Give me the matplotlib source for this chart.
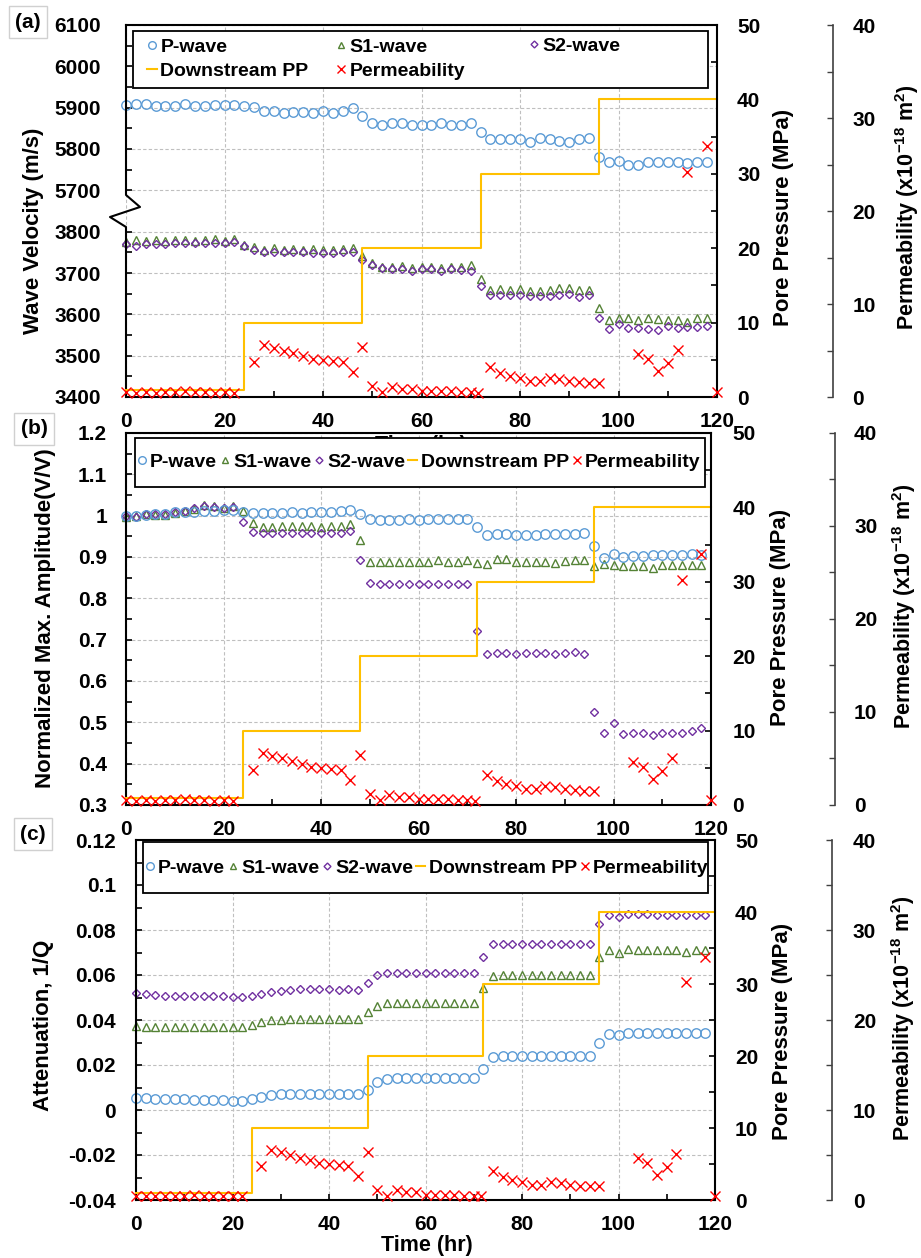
import matplotlib
matplotlib.use('Agg')
import matplotlib.pyplot as plt
from matplotlib.lines import Line2D
from matplotlib.patches import Rectangle
from matplotlib.ticker import MultipleLocator, FixedLocator, FuncFormatter

plt.rcParams['font.family'] = ['Liberation Sans', 'DejaVu Sans']
plt.rcParams['font.weight'] = 'bold'
plt.rcParams['axes.labelweight'] = 'bold'
plt.rcParams['mathtext.fontset'] = 'custom'
plt.rcParams['mathtext.bf'] = 'Liberation Sans:bold'
plt.rcParams['mathtext.rm'] = 'Liberation Sans:bold'
plt.rcParams['mathtext.default'] = 'bf'

W, H = 921, 1258

BLUE = '#5B9BD5'
GREEN = '#548235'
PURPLE = '#7030A0'
GOLD = '#FFC000'
RED = '#FF0000'

# ---- data ----
hours = list(range(0, 120, 2))

# (a) wave velocity, m/s
vel_p = [5906, 5910, 5908, 5904, 5904, 5904, 5910, 5904, 5904, 5906, 5906, 5906,
         5904, 5902, 5892, 5892, 5888, 5890, 5890, 5888, 5891, 5888, 5891, 5899,
         5880, 5862, 5859, 5864, 5862, 5859, 5859, 5859, 5862, 5857, 5858, 5863,
         5840, 5823, 5824, 5823, 5823, 5818, 5827, 5824, 5820, 5818, 5823, 5827,
         5780, 5768, 5770, 5761, 5762, 5768, 5769, 5768, 5769, 5766, 5768, 5769]
vel_s1 = [3776, 3780, 3778, 3780, 3778, 3780, 3780, 3778, 3780, 3782, 3778, 3782,
          3768, 3762, 3756, 3760, 3756, 3758, 3756, 3758, 3756, 3756, 3758, 3760,
          3740, 3723, 3715, 3714, 3717, 3711, 3715, 3715, 3711, 3715, 3715, 3719,
          3685, 3659, 3661, 3659, 3661, 3656, 3656, 3659, 3663, 3663, 3659, 3659,
          3616, 3586, 3592, 3590, 3586, 3590, 3588, 3586, 3586, 3582, 3590, 3590]
vel_s2 = [3770, 3766, 3770, 3770, 3770, 3772, 3772, 3773, 3773, 3772, 3772, 3776,
          3766, 3756, 3752, 3752, 3752, 3752, 3752, 3749, 3749, 3749, 3752, 3750,
          3731, 3719, 3713, 3709, 3710, 3705, 3710, 3709, 3705, 3709, 3707, 3706,
          3669, 3647, 3647, 3647, 3647, 3645, 3644, 3645, 3647, 3649, 3643, 3647,
          3590, 3564, 3576, 3566, 3566, 3565, 3562, 3572, 3568, 3570, 3570, 3572]

# (b) normalized max amplitude
amp_p = [0.998, 1.000, 1.002, 1.004, 1.004, 1.008, 1.010, 1.010, 1.012, 1.012, 1.014, 1.014,
         1.008, 1.006, 1.006, 1.006, 1.006, 1.008, 1.006, 1.008, 1.008, 1.010, 1.012, 1.014,
         1.004, 0.992, 0.990, 0.990, 0.990, 0.991, 0.990, 0.991, 0.991, 0.991, 0.992, 0.992,
         0.973, 0.954, 0.956, 0.956, 0.953, 0.954, 0.954, 0.956, 0.956, 0.956, 0.956, 0.958,
         0.926, 0.898, 0.908, 0.901, 0.902, 0.902, 0.904, 0.906, 0.906, 0.906, 0.908, 0.906]
amp_s1 = [0.996, 0.999, 1.004, 1.002, 1.001, 1.006, 1.012, 1.016, 1.026, 1.024, 1.018, 1.024,
          1.011, 0.983, 0.973, 0.973, 0.975, 0.975, 0.975, 0.975, 0.973, 0.975, 0.975, 0.980,
          0.940, 0.889, 0.889, 0.889, 0.889, 0.889, 0.889, 0.887, 0.892, 0.889, 0.889, 0.893,
          0.885, 0.882, 0.894, 0.896, 0.889, 0.889, 0.889, 0.889, 0.886, 0.890, 0.892, 0.893,
          0.878, 0.882, 0.881, 0.878, 0.878, 0.878, 0.874, 0.881, 0.881, 0.881, 0.881, 0.881]
amp_s2 = [0.998, 0.997, 1.004, 1.003, 1.003, 1.010, 1.012, 1.018, 1.024, 1.020, 1.018, 1.020,
          0.985, 0.961, 0.959, 0.959, 0.958, 0.959, 0.959, 0.959, 0.959, 0.959, 0.959, 0.962,
          0.893, 0.836, 0.835, 0.835, 0.835, 0.834, 0.835, 0.834, 0.835, 0.835, 0.835, 0.835,
          0.720, 0.666, 0.667, 0.667, 0.666, 0.667, 0.667, 0.667, 0.666, 0.667, 0.669, 0.666,
          0.524, 0.474, 0.498, 0.471, 0.475, 0.475, 0.470, 0.474, 0.475, 0.474, 0.479, 0.486]

# (c) attenuation 1/Q
att_p = [0.0055, 0.0052, 0.0050, 0.0049, 0.0049, 0.0048, 0.0046, 0.0044, 0.0044, 0.0043, 0.0040, 0.0040,
         0.0050, 0.0059, 0.0067, 0.0071, 0.0071, 0.0071, 0.0071, 0.0071, 0.0070, 0.0071, 0.0071, 0.0071,
         0.0090, 0.0126, 0.0136, 0.0144, 0.0144, 0.0144, 0.0144, 0.0144, 0.0144, 0.0144, 0.0144, 0.0144,
         0.0182, 0.0237, 0.0240, 0.0240, 0.0240, 0.0240, 0.0240, 0.0240, 0.0240, 0.0240, 0.0240, 0.0240,
         0.0296, 0.0340, 0.0333, 0.0344, 0.0344, 0.0344, 0.0344, 0.0344, 0.0344, 0.0344, 0.0344, 0.0344]
att_s1 = [0.0375, 0.0370, 0.0370, 0.0370, 0.0370, 0.0370, 0.0370, 0.0370, 0.0370, 0.0370, 0.0367, 0.0367,
          0.0378, 0.0393, 0.0400, 0.0400, 0.0403, 0.0403, 0.0403, 0.0403, 0.0403, 0.0403, 0.0403, 0.0403,
          0.0437, 0.0462, 0.0474, 0.0477, 0.0477, 0.0477, 0.0477, 0.0477, 0.0477, 0.0477, 0.0477, 0.0477,
          0.0541, 0.0597, 0.0600, 0.0600, 0.0600, 0.0600, 0.0600, 0.0600, 0.0600, 0.0600, 0.0600, 0.0600,
          0.0681, 0.0711, 0.0699, 0.0714, 0.0711, 0.0711, 0.0711, 0.0711, 0.0711, 0.0704, 0.0711, 0.0711]
att_s2 = [0.0519, 0.0514, 0.0511, 0.0508, 0.0508, 0.0508, 0.0508, 0.0508, 0.0508, 0.0508, 0.0504, 0.0504,
          0.0508, 0.0516, 0.0526, 0.0530, 0.0533, 0.0536, 0.0536, 0.0536, 0.0536, 0.0533, 0.0536, 0.0533,
          0.0563, 0.0600, 0.0607, 0.0610, 0.0610, 0.0610, 0.0610, 0.0610, 0.0610, 0.0610, 0.0610, 0.0610,
          0.0681, 0.0738, 0.0738, 0.0738, 0.0738, 0.0738, 0.0738, 0.0738, 0.0738, 0.0738, 0.0738, 0.0738,
          0.0825, 0.0867, 0.0859, 0.0870, 0.0870, 0.0870, 0.0867, 0.0868, 0.0868, 0.0867, 0.0867, 0.0867]

# downstream pore pressure (MPa), step changes
pp_t = [0, 24, 48, 72, 96, 120]
pp_val = [1, 10, 20, 30, 40, 40]

# permeability (x1e-18 m2)
perm_t = [0, 2, 4, 6, 8, 10, 12, 14, 16, 18, 20, 22,
          26, 28, 30, 32, 34, 36, 38, 40, 42, 44, 46, 48,
          50, 52, 54, 56, 58, 60, 62, 64, 66, 68, 70, 71.5,
          74, 76, 78, 80, 82, 84, 86, 88, 90, 92, 94, 96,
          104, 106, 108, 110, 112, 114, 118, 120]
perm_k = [0.5, 0.45, 0.5, 0.45, 0.5, 0.5, 0.6, 0.5, 0.5, 0.45, 0.5, 0.45,
          3.8, 5.6, 5.3, 5.0, 4.7, 4.4, 4.1, 3.95, 3.85, 3.8, 2.7, 5.35,
          1.15, 0.5, 1.1, 0.9, 0.85, 0.6, 0.6, 0.6, 0.6, 0.5, 0.5, 0.4,
          3.2, 2.6, 2.25, 2.0, 1.7, 1.7, 2.05, 1.9, 1.7, 1.6, 1.55, 1.55,
          4.65, 4.1, 2.8, 3.7, 5.1, 24.2, 27.0, 0.5]

# broken velocity axis: upper block 5700-6100 drawn right above 3400-3800
vel_shift = 1800
vel_ticks = [3400, 3500, 3600, 3700, 3800, 5700, 5800, 5900, 6000, 6100]

fig = plt.figure(figsize=(W / 100, H / 100), dpi=100)
num_fmt = FuncFormatter(lambda v, pos: f'{round(v, 4):g}')


def add_panel(box, k_x, ypad, pppad, kpad):
    x0, y0, x1, y1 = box
    ax = fig.add_axes([x0 / W, 1 - y1 / H, (x1 - x0) / W, (y1 - y0) / H])
    ax.set_facecolor('none')
    ax_pp = ax.twinx()
    ax_k = ax.twinx()
    ax_k.spines['right'].set_position(('axes', (k_x - x0) / (x1 - x0)))
    for s in ['left', 'bottom', 'top']:
        ax.spines[s].set_linewidth(1.5)
    ax.spines['right'].set_visible(False)
    for a in (ax_pp, ax_k):
        for s in ['left', 'bottom', 'top']:
            a.spines[s].set_visible(False)
    ax_pp.spines['right'].set_linewidth(1.5)
    ax_k.spines['right'].set_linewidth(1.2)
    ax_k.spines['right'].set_color('#404040')

    ax.set_xlim(0, 120)
    ax.xaxis.set_major_locator(MultipleLocator(20))
    ax.xaxis.set_minor_locator(MultipleLocator(10))
    ax.tick_params(which='both', direction='in', length=4, width=1.2, labelsize=15)
    ax.tick_params(axis='x', pad=11)
    ax.tick_params(axis='y', pad=ypad)
    ax.grid(True, which='major', color='#BFBFBF', lw=0.8, ls=(0, (3, 2)))

    ax_pp.set_ylim(0, 50)
    ax_pp.yaxis.set_major_locator(MultipleLocator(10))
    ax_pp.yaxis.set_minor_locator(MultipleLocator(5))
    ax_pp.tick_params(which='both', direction='in', length=4, width=1.2, labelsize=15, pad=pppad)

    ax_k.set_ylim(0, 40)
    ax_k.yaxis.set_major_locator(MultipleLocator(10))
    ax_k.yaxis.set_minor_locator(MultipleLocator(5))
    ax_k.tick_params(which='both', direction='in', length=4, width=1.0, labelsize=15, pad=kpad,
                     color='#404040')

    ax_pp.step(pp_t, pp_val, where='post', color=GOLD, lw=1.5, clip_on=False)
    ax_k.plot(perm_t, perm_k, ls='none', marker='x', ms=6.5, mew=1.0, color=RED, clip_on=False)
    return ax


def draw_waves(ax, yp, ys1, ys2):
    ax.plot(hours, ys1, ls='none', marker='^', ms=6, mfc='none', mec=GREEN, mew=1.0, clip_on=False)
    ax.plot(hours, ys2, ls='none', marker='D', ms=4.3, mfc='none', mec=PURPLE, mew=1.0, clip_on=False)
    ax.plot(hours, yp, ls='none', marker='o', ms=6.8, mfc='none', mec=BLUE, mew=1.0, clip_on=False)


# ---- (a) ----
ax_a = add_panel((126, 25, 717, 397), 833, 18, 14.4, 14)
draw_waves(ax_a, [v - vel_shift for v in vel_p], vel_s1, vel_s2)
ax_a.set_ylim(3400, 4300)
ax_a.yaxis.set_major_locator(FixedLocator([v if v < 5000 else v - vel_shift for v in vel_ticks]))
ax_a.set_yticklabels([str(v) for v in vel_ticks])
ax_a.yaxis.set_minor_locator(FixedLocator([3450, 3550, 3650, 3750, 3950, 4050, 4150, 4250]))
ax_a.spines['left'].set_visible(False)
bx = lambda px: (px - 126) / 591
by = lambda py: (397 - py) / 372
ax_a.add_line(Line2D([bx(126), bx(126), bx(140), bx(110), bx(126), bx(126)],
                     [by(25), by(195), by(207), by(217), by(227), by(397)],
                     transform=ax_a.transAxes, color='black', lw=1.5, clip_on=False))

# ---- (b) ----
ax_b = add_panel((126, 433, 711, 805), 835, 13.7, 15.5, 13.7)
draw_waves(ax_b, amp_p, amp_s1, amp_s2)
ax_b.set_ylim(0.3, 1.2)
ax_b.yaxis.set_major_locator(MultipleLocator(0.1))
ax_b.yaxis.set_minor_locator(MultipleLocator(0.05))
ax_b.yaxis.set_major_formatter(num_fmt)

# ---- (c) ----
ax_c = add_panel((136, 840, 715, 1200), 832, 14.4, 14.4, 15)
draw_waves(ax_c, att_p, att_s1, att_s2)
ax_c.set_ylim(-0.04, 0.12)
ax_c.yaxis.set_major_locator(MultipleLocator(0.02))
ax_c.yaxis.set_minor_locator(MultipleLocator(0.01))
ax_c.yaxis.set_major_formatter(num_fmt)

# ---- axis titles ----
def ftext(x, y, s, rot=0, size=16, **kw):
    return fig.text(x / W, 1 - y / H, s, rotation=rot, ha='center', va='center',
                    fontsize=size, fontweight='bold', **kw)

perm_label = r'Permeability (x10$^{-18}$ m$^{2}$)'
ftext(34, 231, 'Wave Velocity (m/s)', 90)
ftext(783, 217, 'Pore Pressure (MPa)', 90)
ftext(907, 207, perm_label, 90, size=15.5)
# x title of (a) is mostly hidden behind the legend box of (b), as in the source figure
ftext(421, 445, 'Time (hr)', size=15.5, zorder=0.5)

ftext(45, 618, 'Normalized Max. Amplitude(V/V)', 90)
ftext(780, 617, 'Pore Pressure (MPa)', 90)
ftext(904, 606, perm_label, 90, size=15.5)

ftext(43, 1025, 'Attenuation, 1/Q', 90)
ftext(782, 1031, 'Pore Pressure (MPa)', 90)
ftext(903, 1018, perm_label, 90, size=15.5)
ftext(427, 1245, 'Time (hr)', size=15.5)

for s, (x, y) in zip(['(a)', '(b)', '(c)'], [(28, 22), (34, 429), (33, 834)]):
    ftext(x, y, s, size=15, bbox=dict(boxstyle='square,pad=0.3', fc='white', ec='#D0D0D0', lw=1))

# ---- legends ----
def handles():
    return dict(
        p=Line2D([], [], ls='none', marker='o', ms=5.5, mfc='none', mec=BLUE, mew=1.0),
        s1=Line2D([], [], ls='none', marker='^', ms=4.5, mfc='none', mec=GREEN, mew=1.0),
        s2=Line2D([], [], ls='none', marker='D', ms=3.5, mfc='none', mec=PURPLE, mew=1.0),
        pp=Line2D([], [], color=GOLD, lw=1.5),
        k=Line2D([], [], ls='none', marker='x', ms=6, mew=1.0, color=RED),
    )

def frame(x0, y0, x1, y1):
    fig.add_artist(Rectangle((x0 / W, 1 - y1 / H), (x1 - x0) / W, (y1 - y0) / H,
                             transform=fig.transFigure, fc='white', ec='black', lw=1.3, zorder=1))

leg_kw = dict(loc='center left', frameon=False, borderpad=0, borderaxespad=0, fontsize=14,
              handlelength=0.55, handletextpad=0.15, labelspacing=0.3)

frame(133, 31, 708, 88)
h = handles()
fig.legend([h['p'], h['pp']], ['P-wave', 'Downstream PP'],
           bbox_to_anchor=(146.7 / W, 1 - 59 / H), **leg_kw)
fig.legend([h['s1'], h['k']], ['S1-wave', 'Permeability'],
           bbox_to_anchor=(335.7 / W, 1 - 59 / H), **leg_kw)
fig.legend([h['s2']], ['S2-wave'],
           bbox_to_anchor=(528.7 / W, 1 - 46 / H), **leg_kw)

row_kw = dict(loc='center left', frameon=False, borderpad=0, borderaxespad=0, fontsize=14, ncol=5,
              handlelength=0.45, handletextpad=0.2, columnspacing=0.17)
for (fx0, fy0, fx1, fy1), lx, ly in [((135, 438, 705, 487), 137.4, 462),
                                      ((143, 842, 708, 893), 145.4, 868)]:
    frame(fx0, fy0, fx1, fy1)
    h = handles()
    fig.legend([h['p'], h['s1'], h['s2'], h['pp'], h['k']],
               ['P-wave', 'S1-wave', 'S2-wave', 'Downstream PP', 'Permeability'],
               bbox_to_anchor=(lx / W, 1 - ly / H), **row_kw)

fig.savefig('out.png', dpi=100)
